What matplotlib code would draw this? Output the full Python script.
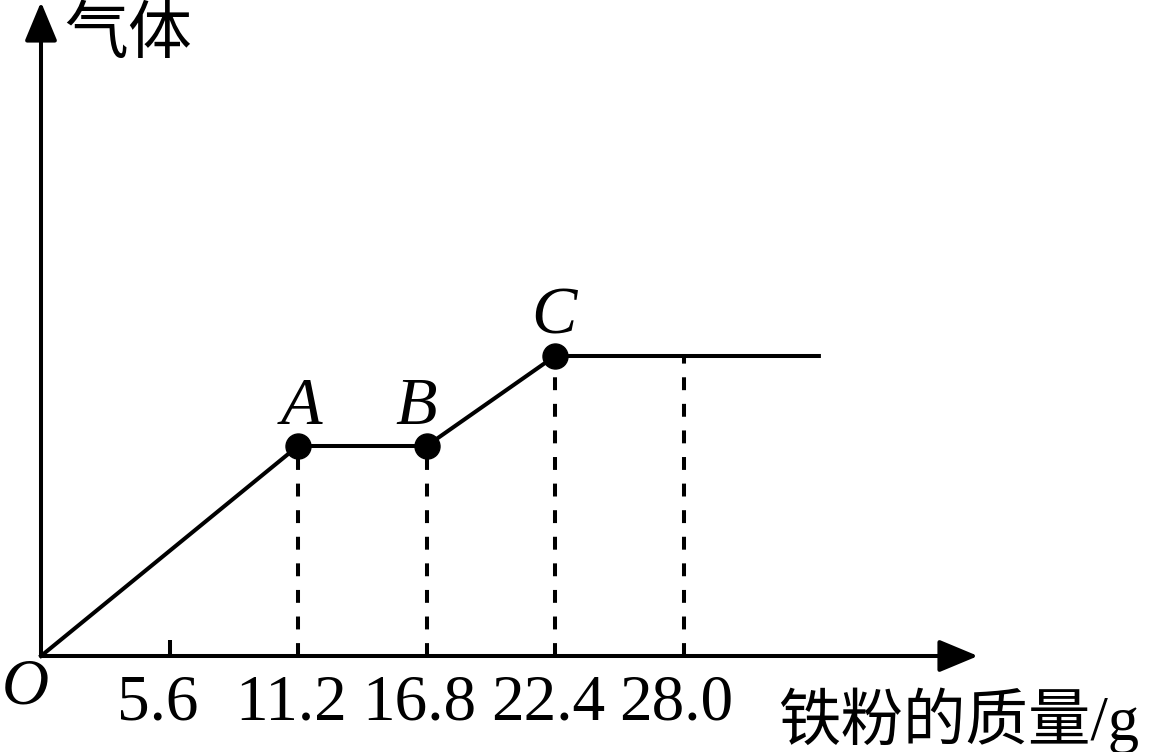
import numpy as np
import matplotlib
matplotlib.use("Agg")
import matplotlib.pyplot as plt

# ---- data ----
mass = [0.0, 11.2, 16.8, 22.4, 33.9]          # iron powder mass / g
gas = [0.0, 2.1, 2.1, 3.0, 3.0]               # gas amount (arbitrary units)
point_names = ["A", "B", "C"]
point_mass = [11.2, 16.8, 22.4]
point_gas = [2.1, 2.1, 3.0]
tick_values = [5.6, 11.2, 16.8, 22.4, 28.0]
tick_labels = ["5.6", "11.2", "16.8", "22.4", "28.0"]
dashed_mass = [11.2, 16.8, 22.4, 28.0]
x_title = "铁粉的质量/g"
y_title = "气体"

W, H = 1157, 752
fig = plt.figure(figsize=(W / 100, H / 100), dpi=100)
ax = fig.add_axes([0, 0, 1, 1])
ax.set_axis_off()

# pixel geometry -> data scale
ox, oy = 41, 656          # origin in pixels (from top-left)
sx = 128.5 / 5.6          # px per gram
sy = 100.0                # px per gas unit


def X(px):
    return (px - ox) / sx


def Y(py):
    return (oy - py) / sy


ax.set_xlim(X(0), X(W))
ax.set_ylim(Y(H), Y(0))

serif = ["Liberation Serif", "DejaVu Serif"]
mixed = ["Liberation Serif", "Noto Sans CJK SC"]
cjk = ["Noto Sans CJK SC", "DejaVu Sans"]

lw = 2.9
# axes arrows
arrow_style = "-|>,head_length=1.2,head_width=0.5"
ax.annotate("", xy=(X(978), 0), xytext=(0, 0),
            arrowprops=dict(arrowstyle=arrow_style, mutation_scale=20, lw=lw,
                            color="black", shrinkA=0, shrinkB=0))
ax.annotate("", xy=(0, Y(2)), xytext=(0, 0),
            arrowprops=dict(arrowstyle=arrow_style, mutation_scale=20, lw=lw,
                            color="black", shrinkA=0, shrinkB=0))

# small tick at 5.6
ax.plot([tick_values[0], tick_values[0]], [0, 0.16], color="black", lw=lw,
        solid_capstyle="butt")

# dashed drop lines
dash_h = np.interp(dashed_mass, mass, gas)
for xm, yh in zip(dashed_mass, dash_h):
    ax.plot([xm, xm], [0, yh], color="black", lw=lw, dashes=(3.2, 3.4),
            dash_capstyle="butt")

# main curve
ax.plot(mass, gas, color="black", lw=lw, solid_joinstyle="miter", zorder=3)
ax.plot(point_mass, point_gas, "o", color="black", markersize=18, zorder=4)

# point labels
label_dx = [0.15, -0.45, -0.05]
for name, xm, yg, dx in zip(point_names, point_mass, point_gas, label_dx):
    ax.text(xm + dx, yg + 0.22, name, family=serif, style="italic",
            fontsize=49, ha="center", va="baseline")

# tick labels
tick_dx = [-0.5, -0.3, -0.3, -0.3, -0.3]
for tv, tl, dx in zip(tick_values, tick_labels, tick_dx):
    ax.text(tv + dx, Y(719), tl, family=serif, fontsize=47,
            ha="center", va="baseline")

# origin label
ax.text(X(2), Y(703), "O", family=serif, style="italic", fontsize=47,
        ha="left", va="baseline")

# axis titles
ax.text(X(778), Y(740), x_title, family=mixed, fontsize=45,
        ha="left", va="baseline")
ax.text(X(64), Y(1), y_title, family=cjk, fontsize=46,
        ha="left", va="top")

fig.savefig("out.png", dpi=100, facecolor="white")
